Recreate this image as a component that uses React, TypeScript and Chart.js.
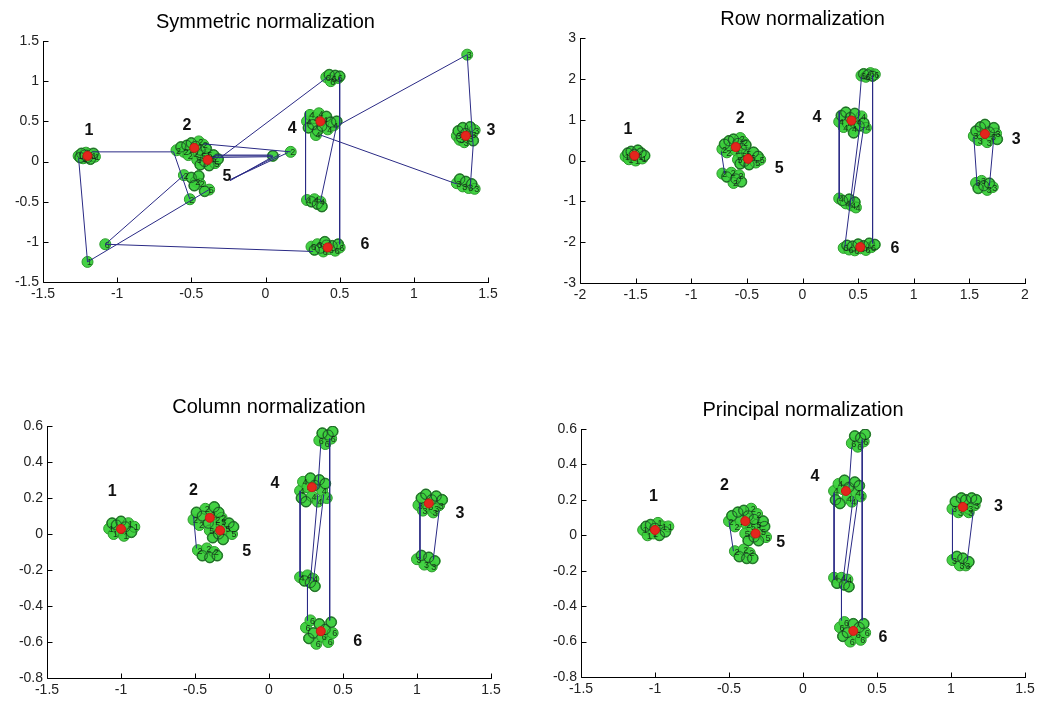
import React, { useEffect, useRef } from "react";
import { Chart, registerables } from "chart.js";
Chart.register(...registerables);

type P = [number, number];

// ================= Symmetric normalization =================
const symC1: P[] = [[-1.26,0.07],[-1.24,0.1],[-1.23,0.04],[-1.22,0.08],[-1.21,0.11],[-1.2,0.05],[-1.19,0.09],[-1.18,0.03],[-1.17,0.07],[-1.16,0.1],[-1.15,0.06],[-1.25,0.05]];
const symC2: P[] = [[-0.6,0.14],[-0.57,0.18],[-0.55,0.12],[-0.53,0.2],[-0.51,0.15],[-0.5,0.23],[-0.48,0.1],[-0.47,0.19],[-0.45,0.25],[-0.44,0.14],[-0.42,0.21],[-0.4,0.16],[-0.52,0.08]];
const symC5: P[] = [[-0.46,0.02],[-0.44,-0.04],[-0.43,0.07],[-0.41,0.0],[-0.39,0.09],[-0.38,-0.05],[-0.36,0.04],[-0.35,0.08],[-0.34,-0.02],[-0.32,0.03],[-0.4,0.05]];
const symS2: P[] = [[-0.55,-0.17],[-0.5,-0.2],[-0.47,-0.25],[-0.45,-0.18],[-0.44,-0.28],[-0.48,-0.3],[-0.51,-0.47]];
const symS5: P[] = [[-0.38,-0.35],[-0.41,-0.37]];
const symC4: P[] = [[0.28,0.5],[0.29,0.42],[0.3,0.58],[0.32,0.46],[0.33,0.54],[0.35,0.38],[0.36,0.6],[0.38,0.44],[0.39,0.52],[0.41,0.56],[0.42,0.4],[0.44,0.49],[0.46,0.45],[0.48,0.5],[0.34,0.33]];
const symS4: P[] = [[0.28,-0.48],[0.31,-0.5],[0.33,-0.47],[0.35,-0.53],[0.37,-0.5],[0.38,-0.56]];
const symT6: P[] = [[0.41,1.05],[0.43,1.08],[0.45,1.03],[0.47,1.07],[0.49,1.04],[0.5,1.06],[0.44,1.0]];
const symC6: P[] = [[0.31,-1.06],[0.33,-1.1],[0.35,-1.03],[0.37,-1.08],[0.39,-1.12],[0.41,-1.04],[0.43,-1.09],[0.45,-1.05],[0.47,-1.11],[0.49,-1.03],[0.5,-1.07],[0.4,-1.0]];
const symC3: P[] = [[1.29,0.32],[1.3,0.38],[1.31,0.27],[1.33,0.42],[1.34,0.24],[1.35,0.35],[1.37,0.29],[1.38,0.43],[1.39,0.33],[1.4,0.26],[1.41,0.39],[1.32,0.3]];
const symS3: P[] = [[1.29,-0.27],[1.31,-0.22],[1.33,-0.31],[1.35,-0.25],[1.37,-0.33],[1.39,-0.28],[1.41,-0.34]];
const symOut1: P[] = [[-1.2,-1.25],[0.05,0.07]];
const symOut2: P[] = [[0.17,0.12]];
const symOut3: P[] = [[1.36,1.33]];
const symOut6: P[] = [[-1.08,-1.03]];
const symCentroids: P[] = [[-1.2,0.07],[-0.48,0.17],[-0.39,0.02],[0.37,0.5],[0.42,-1.07],[1.35,0.32]];
const symPaths: P[][] = [
  [[-1.17,0.12],[-0.62,0.12],[-0.51,-0.47]],
  [[-1.26,0.04],[-1.2,-1.25],[-0.38,-0.35]],
  [[-0.55,-0.17],[-1.08,-1.03],[0.32,-1.12]],
  [[-0.42,0.22],[0.17,0.12]],
  [[-0.35,0.07],[0.05,0.07]],
  [[-0.36,0.05],[0.05,0.06]],
  [[-0.34,0.08],[0.04,0.08]],
  [[-0.24,-0.24],[0.05,0.06]],
  [[-0.24,-0.23],[0.1,0.09]],
  [[-0.23,-0.22],[0.15,0.11]],
  [[-0.31,0.04],[0.41,1.04]],
  [[0.5,1.05],[0.5,-1.03]],
  [[0.27,0.62],[0.27,-0.48]],
  [[0.48,0.45],[0.37,-0.5]],
  [[0.5,0.46],[1.36,1.33],[1.39,0.45],[1.4,0.2],[1.38,-0.33]],
  [[0.37,0.33],[1.29,-0.28]],
];
const symLabelText = ["1", "2", "5", "4", "3", "6"];
const symLabelPos: P[] = [[-1.19,0.39],[-0.53,0.45],[-0.26,-0.19],[0.18,0.41],[1.52,0.39],[0.67,-1.04]];
const symXTicks = [-1.5, -1, -0.5, 0, 0.5, 1, 1.5];
const symYTicks = [-1.5, -1, -0.5, 0, 0.5, 1, 1.5];

// ================= Row normalization =================
const rowC1: P[] = [[-1.59,0.1],[-1.57,0.18],[-1.56,0.03],[-1.54,0.22],[-1.53,0.08],[-1.51,0.15],[-1.5,0.0],[-1.48,0.25],[-1.47,0.1],[-1.45,0.18],[-1.44,0.05],[-1.42,0.12]];
const rowC2: P[] = [[-0.72,0.28],[-0.7,0.4],[-0.68,0.2],[-0.66,0.48],[-0.64,0.33],[-0.62,0.52],[-0.6,0.25],[-0.58,0.42],[-0.56,0.55],[-0.55,0.3],[-0.53,0.45],[-0.51,0.38]];
const rowC5: P[] = [[-0.58,0.02],[-0.56,-0.08],[-0.54,0.12],[-0.52,-0.02],[-0.5,0.18],[-0.48,-0.1],[-0.46,0.08],[-0.44,0.2],[-0.42,-0.05],[-0.4,0.1],[-0.38,0.02]];
const rowS2: P[] = [[-0.72,-0.32],[-0.68,-0.4],[-0.64,-0.3],[-0.6,-0.45],[-0.57,-0.36],[-0.55,-0.52],[-0.62,-0.55]];
const rowC4: P[] = [[0.33,0.95],[0.35,1.1],[0.37,0.82],[0.39,1.18],[0.41,0.9],[0.43,1.05],[0.45,0.78],[0.47,1.15],[0.49,0.95],[0.51,0.85],[0.53,1.08],[0.55,0.92],[0.57,0.8],[0.46,0.68]];
const rowS4: P[] = [[0.33,-0.93],[0.36,-0.98],[0.39,-1.05],[0.42,-0.95],[0.44,-1.1],[0.47,-1.02],[0.48,-1.15]];
const rowT6: P[] = [[0.53,2.08],[0.55,2.12],[0.57,2.05],[0.59,2.1],[0.61,2.14],[0.63,2.07],[0.65,2.11]];
const rowC6: P[] = [[0.37,-2.14],[0.4,-2.08],[0.42,-2.18],[0.45,-2.1],[0.47,-2.2],[0.5,-2.05],[0.52,-2.15],[0.55,-2.09],[0.57,-2.19],[0.6,-2.03],[0.62,-2.12],[0.65,-2.06]];
const rowC3: P[] = [[1.54,0.6],[1.56,0.72],[1.58,0.5],[1.6,0.82],[1.62,0.62],[1.64,0.88],[1.66,0.45],[1.68,0.7],[1.7,0.58],[1.72,0.8],[1.74,0.66],[1.75,0.52]];
const rowS3: P[] = [[1.56,-0.55],[1.58,-0.68],[1.61,-0.5],[1.63,-0.62],[1.66,-0.72],[1.68,-0.56],[1.71,-0.65]];
const rowCentroids: P[] = [[-1.51,0.12],[-0.6,0.33],[-0.49,0.04],[0.44,0.98],[0.52,-2.12],[1.64,0.65]];
const rowPaths: P[][] = [
  [[-0.73,0.22],[-0.7,-0.32]],
  [[0.33,1.2],[0.33,-0.93]],
  [[0.53,2.05],[0.5,1.0]],
  [[0.63,2.08],[0.63,-2.03]],
  [[0.52,0.95],[0.38,-2.12]],
  [[0.55,0.82],[0.45,-1.0]],
  [[1.54,0.58],[1.57,-0.62]],
  [[1.72,0.58],[1.68,-0.62]],
];
const rowLabelText = ["1", "2", "5", "4", "3", "6"];
const rowLabelPos: P[] = [[-1.57,0.75],[-0.56,1.02],[-0.21,-0.2],[0.13,1.06],[1.92,0.5],[0.83,-2.16]];
const rowXTicks = [-2, -1.5, -1, -0.5, 0, 0.5, 1, 1.5, 2];
const rowYTicks = [-3, -2, -1, 0, 1, 2, 3];

// ================= Column normalization =================
const colC1: P[] = [[-1.08,0.03],[-1.06,0.06],[-1.05,0.0],[-1.03,0.05],[-1.01,0.02],[-1.0,0.07],[-0.98,-0.01],[-0.97,0.04],[-0.95,0.06],[-0.93,0.01],[-0.91,0.04]];
const colC2: P[] = [[-0.51,0.08],[-0.49,0.12],[-0.47,0.05],[-0.45,0.1],[-0.43,0.14],[-0.41,0.06],[-0.39,0.11],[-0.37,0.15],[-0.36,0.08],[-0.34,0.12],[-0.32,0.09]];
const colC5: P[] = [[-0.4,0.02],[-0.38,-0.02],[-0.36,0.05],[-0.34,0.0],[-0.32,0.07],[-0.31,-0.03],[-0.29,0.03],[-0.27,0.06],[-0.25,0.0],[-0.24,0.04]];
const colS2: P[] = [[-0.48,-0.09],[-0.45,-0.12],[-0.42,-0.08],[-0.4,-0.13],[-0.37,-0.1],[-0.35,-0.12]];
const colC4: P[] = [[0.21,0.24],[0.22,0.2],[0.23,0.29],[0.25,0.18],[0.26,0.26],[0.28,0.31],[0.29,0.21],[0.31,0.27],[0.33,0.18],[0.34,0.3],[0.36,0.24],[0.38,0.28],[0.39,0.2]];
const colS4: P[] = [[0.21,-0.24],[0.24,-0.26],[0.26,-0.23],[0.28,-0.27],[0.3,-0.25],[0.31,-0.29]];
const colT6: P[] = [[0.34,0.52],[0.36,0.56],[0.38,0.5],[0.4,0.55],[0.42,0.53],[0.43,0.57]];
const colC6: P[] = [[0.25,-0.52],[0.27,-0.58],[0.28,-0.48],[0.3,-0.55],[0.32,-0.61],[0.34,-0.5],[0.36,-0.57],[0.38,-0.53],[0.4,-0.6],[0.42,-0.49],[0.43,-0.55]];
const colC3: P[] = [[1.01,0.16],[1.03,0.2],[1.04,0.13],[1.06,0.22],[1.08,0.15],[1.1,0.19],[1.11,0.12],[1.13,0.21],[1.15,0.16],[1.17,0.19],[1.12,0.14]];
const colS3: P[] = [[1.0,-0.14],[1.03,-0.12],[1.05,-0.17],[1.08,-0.13],[1.1,-0.18],[1.12,-0.15]];
const colCentroids: P[] = [[-1.0,0.028],[-0.4,0.09],[-0.33,0.02],[0.29,0.26],[0.35,-0.54],[1.08,0.17]];
const colPaths: P[][] = [
  [[-0.51,0.1],[-0.49,-0.08]],
  [[0.21,0.24],[0.21,-0.24]],
  [[0.35,0.5],[0.33,0.25]],
  [[0.41,0.53],[0.41,-0.48]],
  [[0.33,0.22],[0.28,-0.26]],
  [[0.37,0.22],[0.3,-0.26]],
  [[0.26,-0.28],[0.26,-0.48]],
  [[1.02,0.17],[1.02,-0.14]],
  [[1.15,0.13],[1.11,-0.14]],
];
const colLabelText = ["1", "2", "5", "4", "3", "6"];
const colLabelPos: P[] = [[-1.06,0.235],[-0.51,0.24],[-0.15,-0.1],[0.04,0.28],[1.29,0.115],[0.6,-0.6]];
const colXTicks = [-1.5, -1, -0.5, 0, 0.5, 1, 1.5];
const colYTicks = [-0.8, -0.6, -0.4, -0.2, 0, 0.2, 0.4, 0.6];

// ================= Principal normalization =================
const priC1: P[] = [[-1.08,0.03],[-1.06,0.05],[-1.05,0.0],[-1.03,0.06],[-1.01,0.01],[-1.0,0.04],[-0.98,0.07],[-0.97,0.0],[-0.95,0.05],[-0.93,0.02],[-0.91,0.05]];
const priC2: P[] = [[-0.5,0.08],[-0.48,0.11],[-0.46,0.05],[-0.44,0.13],[-0.42,0.08],[-0.4,0.14],[-0.38,0.06],[-0.37,0.11],[-0.35,0.15],[-0.33,0.09],[-0.31,0.12]];
const priC5: P[] = [[-0.39,0.01],[-0.37,-0.03],[-0.35,0.05],[-0.33,-0.01],[-0.31,0.06],[-0.3,-0.03],[-0.28,0.02],[-0.26,0.05],[-0.25,-0.01],[-0.27,0.08]];
const priS2: P[] = [[-0.46,-0.09],[-0.43,-0.12],[-0.4,-0.08],[-0.38,-0.13],[-0.36,-0.1],[-0.34,-0.13]];
const priC4: P[] = [[0.21,0.25],[0.22,0.2],[0.24,0.29],[0.25,0.18],[0.27,0.26],[0.28,0.31],[0.3,0.21],[0.31,0.27],[0.33,0.19],[0.35,0.3],[0.36,0.24],[0.38,0.28],[0.39,0.22]];
const priS4: P[] = [[0.21,-0.24],[0.23,-0.27],[0.26,-0.24],[0.28,-0.28],[0.3,-0.25],[0.31,-0.29]];
const priT6: P[] = [[0.33,0.52],[0.35,0.56],[0.37,0.5],[0.39,0.55],[0.41,0.53],[0.42,0.57]];
const priC6: P[] = [[0.25,-0.52],[0.27,-0.57],[0.28,-0.49],[0.3,-0.55],[0.32,-0.6],[0.34,-0.5],[0.36,-0.56],[0.38,-0.52],[0.39,-0.59],[0.41,-0.5],[0.42,-0.55]];
const priC3: P[] = [[1.01,0.15],[1.03,0.19],[1.05,0.13],[1.07,0.21],[1.09,0.16],[1.1,0.2],[1.12,0.13],[1.14,0.21],[1.16,0.17],[1.17,0.2],[1.12,0.15]];
const priS3: P[] = [[1.01,-0.14],[1.04,-0.12],[1.06,-0.17],[1.08,-0.13],[1.1,-0.17],[1.12,-0.15]];
const priCentroids: P[] = [[-1.0,0.03],[-0.39,0.08],[-0.32,0.01],[0.29,0.25],[0.34,-0.54],[1.08,0.16]];
const priPaths: P[][] = [
  [[-0.5,0.08],[-0.47,-0.09]],
  [[0.21,0.24],[0.21,-0.25]],
  [[0.33,0.5],[0.31,0.26]],
  [[0.4,0.54],[0.4,-0.48]],
  [[0.34,0.22],[0.27,-0.26]],
  [[0.37,0.2],[0.29,-0.27]],
  [[0.26,-0.28],[0.26,-0.48]],
  [[1.01,0.15],[1.01,-0.14]],
  [[1.15,0.13],[1.11,-0.14]],
];
const priLabelText = ["1", "2", "5", "4", "3", "6"];
const priLabelPos: P[] = [[-1.01,0.22],[-0.53,0.28],[-0.15,-0.04],[0.08,0.33],[1.32,0.16],[0.54,-0.58]];
const priXTicks = [-1.5, -1, -0.5, 0, 0.5, 1, 1.5];
const priYTicks = [-0.8, -0.6, -0.4, -0.2, 0, 0.2, 0.4, 0.6];

// ================= panel configs =================
interface Group { id: string; pts: P[] }
interface Panel {
  title: string;
  box: { l: number; t: number; r: number; b: number };
  xTicks: number[];
  yTicks: number[];
  groups: Group[];
  centroids: P[];
  paths: P[][];
  labelText: string[];
  labelPos: P[];
}

const panels: Panel[] = [
  {
    title: "Symmetric normalization",
    box: { l: 43, t: 41, r: 488, b: 282 },
    xTicks: symXTicks, yTicks: symYTicks,
    groups: [
      { id: "1", pts: symC1 }, { id: "2", pts: symC2 }, { id: "5", pts: symC5 },
      { id: "2", pts: symS2 }, { id: "5", pts: symS5 }, { id: "4", pts: symC4 },
      { id: "4", pts: symS4 }, { id: "6", pts: symT6 }, { id: "6", pts: symC6 },
      { id: "3", pts: symC3 }, { id: "3", pts: symS3 }, { id: "1", pts: symOut1 },
      { id: "2", pts: symOut2 }, { id: "3", pts: symOut3 }, { id: "6", pts: symOut6 },
    ],
    centroids: symCentroids, paths: symPaths, labelText: symLabelText, labelPos: symLabelPos,
  },
  {
    title: "Row normalization",
    box: { l: 580, t: 38, r: 1025, b: 283 },
    xTicks: rowXTicks, yTicks: rowYTicks,
    groups: [
      { id: "1", pts: rowC1 }, { id: "2", pts: rowC2 }, { id: "5", pts: rowC5 },
      { id: "2", pts: rowS2 }, { id: "4", pts: rowC4 }, { id: "4", pts: rowS4 },
      { id: "6", pts: rowT6 }, { id: "6", pts: rowC6 }, { id: "3", pts: rowC3 },
      { id: "3", pts: rowS3 },
    ],
    centroids: rowCentroids, paths: rowPaths, labelText: rowLabelText, labelPos: rowLabelPos,
  },
  {
    title: "Column normalization",
    box: { l: 47, t: 426, r: 491, b: 678 },
    xTicks: colXTicks, yTicks: colYTicks,
    groups: [
      { id: "1", pts: colC1 }, { id: "2", pts: colC2 }, { id: "5", pts: colC5 },
      { id: "2", pts: colS2 }, { id: "4", pts: colC4 }, { id: "4", pts: colS4 },
      { id: "6", pts: colT6 }, { id: "6", pts: colC6 }, { id: "3", pts: colC3 },
      { id: "3", pts: colS3 },
    ],
    centroids: colCentroids, paths: colPaths, labelText: colLabelText, labelPos: colLabelPos,
  },
  {
    title: "Principal normalization",
    box: { l: 581, t: 429, r: 1025, b: 677 },
    xTicks: priXTicks, yTicks: priYTicks,
    groups: [
      { id: "1", pts: priC1 }, { id: "2", pts: priC2 }, { id: "5", pts: priC5 },
      { id: "2", pts: priS2 }, { id: "4", pts: priC4 }, { id: "4", pts: priS4 },
      { id: "6", pts: priT6 }, { id: "6", pts: priC6 }, { id: "3", pts: priC3 },
      { id: "3", pts: priS3 },
    ],
    centroids: priCentroids, paths: priPaths, labelText: priLabelText, labelPos: priLabelPos,
  },
];

const FONT = "Arial, 'Liberation Sans', sans-serif";
const Y_AXIS_W = 40;
const TOP_PAD = 36;
const RIGHT_PAD = 22;
const X_AXIS_H = 26;

function PanelChart({ panel }: { panel: Panel }) {
  const ref = useRef<HTMLCanvasElement>(null);
  const { l, t, r, b } = panel.box;
  const cl = l - Y_AXIS_W;
  const ct = t - TOP_PAD;
  const W = r - l + Y_AXIS_W + RIGHT_PAD;
  const H = b - t + TOP_PAD + X_AXIS_H;

  useEffect(() => {
    if (!ref.current) return;
    const toXY = (p: P) => ({ x: p[0], y: p[1] });
    const allPts = panel.groups.flatMap((g) => g.pts.map(toXY));
    const outlinePts = panel.groups.flatMap((g) => g.pts.filter((_, i) => i % 2 === 1).map(toXY));

    const datasets: any[] = [
      {
        label: "centroids",
        data: panel.centroids.map(toXY),
        showLine: false,
        pointRadius: 4.5,
        backgroundColor: "#e3261d",
        pointBackgroundColor: "#e3261d",
        pointBorderColor: "#c81a12",
        pointBorderWidth: 1,
      },
      ...panel.paths.map((path) => ({
        label: "path",
        data: path.map(toXY),
        showLine: true,
        borderColor: "#2a2a85",
        borderWidth: 1,
        pointRadius: 0,
        fill: false,
      })),
      {
        label: "outline",
        data: outlinePts,
        showLine: false,
        pointRadius: 5,
        backgroundColor: "rgba(0,0,0,0)",
        pointBackgroundColor: "rgba(0,0,0,0)",
        pointBorderColor: "rgba(25,60,40,0.75)",
        pointBorderWidth: 1,
      },
      {
        label: "clusters",
        data: allPts,
        showLine: false,
        pointRadius: 5.5,
        backgroundColor: "#3ccf3c",
        pointBackgroundColor: "rgba(58,208,58,0.95)",
        pointBorderColor: "#2d9a2d",
        pointBorderWidth: 1,
      },
    ];
    const outlineIdx = datasets.length - 2;

    const overlay = {
      id: "overlay",
      afterDatasetDraw(chart: any, args: any) {
        if (args.index !== outlineIdx) return;
        const ctx = chart.ctx;
        const xs = chart.scales.x, ys = chart.scales.y;
        ctx.save();
        ctx.font = `9px ${FONT}`;
        ctx.fillStyle = "rgba(14,30,16,0.85)";
        ctx.textAlign = "center";
        ctx.textBaseline = "middle";
        panel.groups.forEach((g) => {
          g.pts.forEach((p, i) => {
            if (i % 2 === 0) {
              ctx.fillText(g.id, xs.getPixelForValue(p[0]) + 2, ys.getPixelForValue(p[1]) + 1);
            }
          });
        });
        ctx.restore();
      },
      afterDraw(chart: any) {
        const ctx = chart.ctx;
        const ca = chart.chartArea;
        const xs = chart.scales.x, ys = chart.scales.y;
        ctx.save();
        ctx.strokeStyle = "#000";
        ctx.lineWidth = 1;
        const left = Math.round(ca.left) + 0.5;
        const bottom = Math.round(ca.bottom) + 0.5;
        ctx.beginPath();
        ctx.moveTo(left, Math.round(ca.top));
        ctx.lineTo(left, bottom);
        ctx.lineTo(Math.round(ca.right) + 1, bottom);
        panel.xTicks.forEach((v) => {
          const px = Math.round(xs.getPixelForValue(v)) + 0.5;
          ctx.moveTo(px, bottom);
          ctx.lineTo(px, bottom - 5);
        });
        panel.yTicks.forEach((v) => {
          const py = Math.round(ys.getPixelForValue(v)) + 0.5;
          ctx.moveTo(left, py);
          ctx.lineTo(left + 5, py);
        });
        ctx.stroke();
        // title
        ctx.fillStyle = "#000";
        ctx.font = `20px ${FONT}`;
        ctx.textAlign = "center";
        ctx.textBaseline = "middle";
        ctx.fillText(panel.title, (ca.left + ca.right) / 2, ca.top - 19);
        // cluster labels
        ctx.font = `bold 16px ${FONT}`;
        ctx.fillStyle = "#111";
        panel.labelText.forEach((txt, i) => {
          const p = panel.labelPos[i];
          ctx.fillText(txt, xs.getPixelForValue(p[0]), ys.getPixelForValue(p[1]));
        });
        ctx.restore();
      },
    };

    const xs = panel.xTicks, ysT = panel.yTicks;
    const chart = new Chart(ref.current, {
      type: "scatter",
      data: { datasets },
      options: {
        responsive: false,
        animation: false,
        events: [],
        layout: { padding: { left: 0, top: TOP_PAD, right: RIGHT_PAD, bottom: 0 } },
        plugins: {
          legend: { display: false },
          tooltip: { enabled: false },
          title: { display: false },
        },
        scales: {
          x: {
            type: "linear",
            min: xs[0],
            max: xs[xs.length - 1],
            afterBuildTicks: (s: any) => { s.ticks = xs.map((v) => ({ value: v })); },
            afterFit: (s: any) => { s.height = X_AXIS_H; },
            grid: { display: false, drawTicks: false },
            border: { display: false },
            ticks: {
              autoSkip: false,
              maxRotation: 0,
              padding: 4,
              color: "#222",
              font: { family: FONT, size: 14 },
              callback: (v: any) => String(v),
            },
          },
          y: {
            type: "linear",
            min: ysT[0],
            max: ysT[ysT.length - 1],
            afterBuildTicks: (s: any) => { s.ticks = ysT.map((v) => ({ value: v })); },
            afterFit: (s: any) => { s.width = Y_AXIS_W; },
            grid: { display: false, drawTicks: false },
            border: { display: false },
            ticks: {
              autoSkip: false,
              padding: 4,
              color: "#222",
              font: { family: FONT, size: 14 },
              callback: (v: any) => String(v),
            },
          },
        },
      } as any,
      plugins: [overlay as any],
    });
    return () => chart.destroy();
  }, [panel]);

  return (
    <canvas
      ref={ref}
      width={W}
      height={H}
      style={{ position: "absolute", left: cl, top: ct, width: W, height: H }}
    />
  );
}

export default function App() {
  return (
    <div
      style={{
        position: "absolute",
        left: 0,
        top: 0,
        width: 1037,
        height: 703,
        background: "#fff",
        overflow: "hidden",
      }}
    >
      {panels.map((p, i) => (
        <PanelChart key={i} panel={p} />
      ))}
    </div>
  );
}
